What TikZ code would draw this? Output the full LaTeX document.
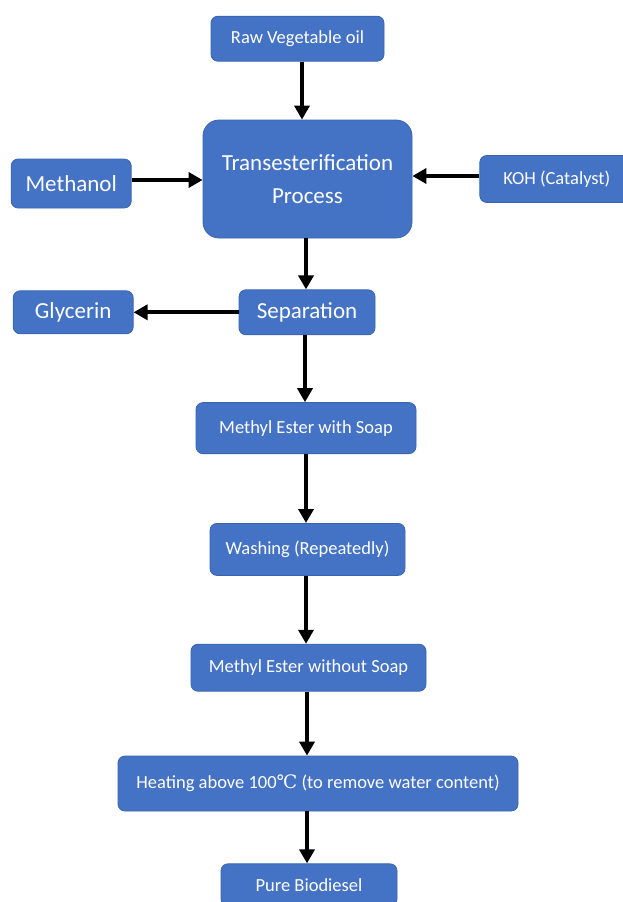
\documentclass[tikz,border=0pt]{standalone}
\usepackage{fontspec}
\setmainfont{Carlito}
\newfontfamily\degfont{DejaVu Serif}
\usetikzlibrary{arrows.meta,positioning}

\definecolor{boxblue}{HTML}{4472C4}
\definecolor{boxedge}{HTML}{3A64AE}

\begin{document}
\begin{tikzpicture}[
  x=1pt, y=-1pt,
  stagebox/.style={draw=boxedge,line width=0.8pt,fill=boxblue,text=white,
    rounded corners=7pt,inner sep=0pt,align=center,
    font=\fontsize{18.5}{22}\selectfont},
  bigbox/.style={stagebox,font=\fontsize{23}{34}\selectfont},
  flow/.style={line width=4pt,-{Triangle[length=14pt,width=15pt]}}
]
  \useasboundingbox (0,0) rectangle (623,902);

  \node[bigbox,rounded corners=16pt,minimum width=209pt,minimum height=118pt]
    (trans) at (307.5,179) {Transesterification\\[-1pt]Process};
  \node[stagebox,minimum width=173pt,minimum height=45pt,
    above=58pt of trans,xshift=-10pt] (raw) {Raw Vegetable oil};
  \node[bigbox,minimum width=120pt,minimum height=49pt,
    left=71pt of trans,yshift=-4.5pt] (methanol) {Methanol};
  \node[stagebox,minimum width=154pt,minimum height=47pt,
    right=67pt of trans] (koh) {KOH (Catalyst)};
  \node[bigbox,minimum width=136pt,minimum height=45pt,
    below=51pt of trans,xshift=-0.5pt] (sep) {Separation};
  \node[bigbox,minimum width=120pt,minimum height=43pt,
    left=105pt of sep] (glycerin) {Glycerin};
  \node[stagebox,minimum width=220pt,minimum height=51pt,
    below=67pt of sep,xshift=-1pt] (mesoap) {Methyl Ester with Soap};
  \node[stagebox,minimum width=195pt,minimum height=52pt,
    below=69pt of mesoap,xshift=1.5pt] (wash) {Washing (Repeatedly)};
  \node[stagebox,minimum width=235pt,minimum height=47pt,
    below=68pt of wash,xshift=1pt] (menosoap) {Methyl Ester without Soap};
  \node[stagebox,minimum width=400pt,minimum height=55pt,
    below=64pt of menosoap,xshift=9.5pt]
    (heat) {Heating above 100{\degfont ℃} (to remove water content)};
  \node[stagebox,minimum width=176pt,minimum height=42pt,
    below=52pt of heat,xshift=-9pt] (pure) {Pure Biodiesel};

  \draw[flow] ([xshift=4.5pt]raw.south) -- ([xshift=4.5pt]raw.south |- trans.north);
  \draw[flow] ([yshift=3.5pt]methanol.east) -- ([yshift=3.5pt]methanol.east -| trans.west);
  \draw[flow] ([yshift=3pt]koh.west) -- ([yshift=3pt]koh.west -| trans.east);
  \draw[flow] ([xshift=-1.5pt]trans.south) -- ([xshift=-1.5pt]trans.south |- sep.north);
  \draw[flow] (sep.west) -- (sep.west -| glycerin.east);
  \draw[flow] ([xshift=-2pt]sep.south) -- ([xshift=-2pt]sep.south |- mesoap.north);
  \draw[flow] (mesoap.south) -- (mesoap.south |- wash.north);
  \draw[flow] ([xshift=-1.5pt]wash.south) -- ([xshift=-1.5pt]wash.south |- menosoap.north);
  \draw[flow] ([xshift=-1.5pt]menosoap.south) -- ([xshift=-1.5pt]menosoap.south |- heat.north);
  \draw[flow] ([xshift=-2pt]pure.north |- heat.south) -- ([xshift=-2pt]pure.north);
\end{tikzpicture}
\end{document}
